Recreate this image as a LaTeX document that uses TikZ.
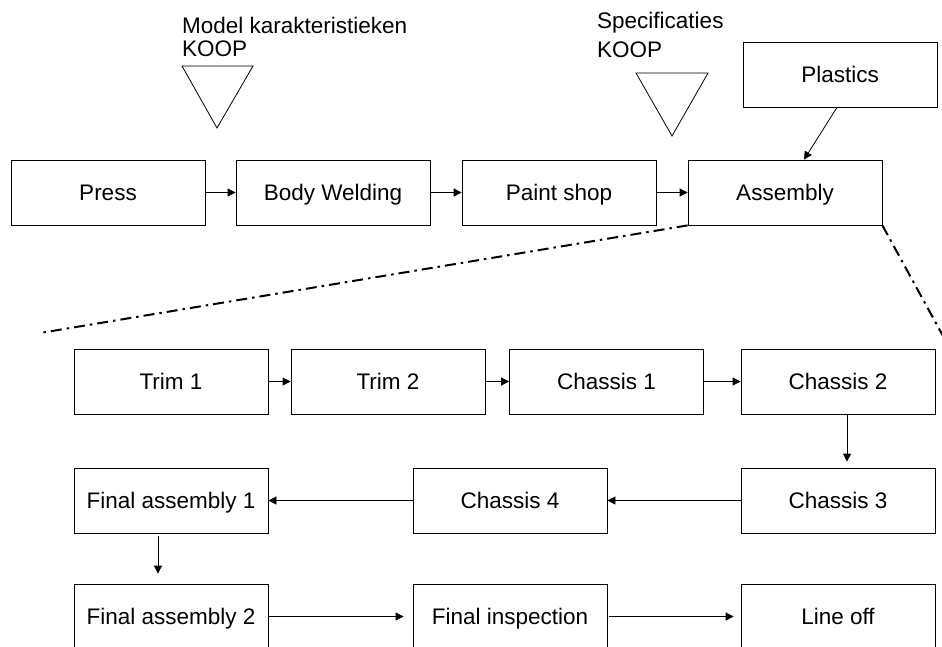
\documentclass[tikz,border=0pt]{standalone}
\usepackage{fontspec}
\setmainfont{Liberation Sans}
\usetikzlibrary{arrows.meta}
\begin{document}
\begin{tikzpicture}[x=1pt,y=-1pt,
  every node/.style={font=\fontsize{22.5}{27}\selectfont},
  box/.style={draw, line width=0.8pt, minimum width=194pt, minimum height=65pt, inner sep=0pt, text height=17.5pt, text depth=2pt},
  lbl/.style={anchor=base west, inner sep=0pt},
  flow/.style={line width=0.8pt, -{Triangle[length=8pt,width=8pt]}},
  zoomline/.style={line width=2pt, dash pattern=on 11pt off 5pt on 2.5pt off 5pt}]
\useasboundingbox (0,0) rectangle (942,646);
% top row
\node[box] (press) at (108,192.5) {Press};
\node[box] (body) at (333,192.5) {Body Welding};
\node[box] (paint) at (559,192.5) {Paint shop};
\node[box] (assy) at (785,192.5) {Assembly};
\node[box] (plast) at (840,74.5) {Plastics};
% labels and triangles
\node[lbl] (m1) at (182,33) {Model karakteristieken};
\node[lbl] (m2) at (182,56) {KOOP};
\node[lbl] (s1) at (597,28) {Specificaties};
\node[lbl] (s2) at (597,57) {KOOP};
\draw[line width=0.8pt, line join=miter] (182,66) -- (253,66) -- (217,128) -- cycle;
\draw[line width=0.8pt, line join=miter] (636,73) -- (708,73) -- (672,136) -- cycle;
\draw[flow] (press.east) -- (body.west);
\draw[flow] (body.east) -- (paint.west);
\draw[flow] (paint.east) -- (assy.west);
\draw[flow] ([xshift=-3pt]plast.south) -- ([xshift=19pt]assy.north);
% zoom lines
\coordinate (zl) at (40,333);
\coordinate (zr) at (943,336);
\draw[zoomline] (assy.south west) -- (zl);
\draw[zoomline] (assy.south east) -- (zr);
% detail rows
\node[box] (trim1) at (171,381.5) {Trim 1};
\node[box] (trim2) at (388,381.5) {Trim 2};
\node[box] (ch1) at (606.5,381.5) {Chassis 1};
\node[box] (ch2) at (838,381.5) {Chassis 2};
\node[box] (fa1) at (171,500.5) {Final assembly 1};
\node[box] (ch4) at (510,500.5) {Chassis 4};
\node[box] (ch3) at (838,500.5) {Chassis 3};
\node[box] (fa2) at (171,616.5) {Final assembly 2};
\node[box] (fi) at (510,616.5) {Final inspection};
\node[box] (lo) at (838,616.5) {Line off};
\draw[flow] (trim1.east) -- (trim2.west);
\draw[flow] (trim2.east) -- (ch1.west);
\draw[flow] (ch1.east) -- (ch2.west);
\draw[flow, shorten >=6pt] ([xshift=9pt]ch2.south) -- ([xshift=9pt]ch3.north);
\draw[flow] (ch3.west) -- (ch4.east);
\draw[flow] (ch4.west) -- (fa1.east);
\draw[flow, shorten <=3pt, shorten >=10pt] ([xshift=-13pt]fa1.south) -- ([xshift=-13pt]fa2.north);
\draw[flow, shorten >=9pt] (fa2.east) -- (fi.west);
\draw[flow, shorten <=2pt, shorten >=7pt] (fi.east) -- (lo.west);
\end{tikzpicture}
\end{document}
